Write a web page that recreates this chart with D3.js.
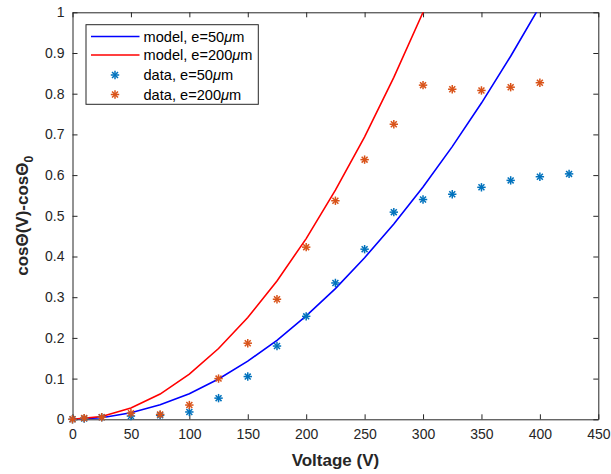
<!DOCTYPE html>
<html>
<head>
<meta charset="utf-8">
<script src="https://cdn.jsdelivr.net/npm/d3@7"></script>
<style>
  html, body { margin: 0; padding: 0; background: #fff; }
  svg { display: block; font-family: "Liberation Sans", Arial, Helvetica, sans-serif; }
</style>
</head>
<body>
<svg id="chart" width="611" height="474"></svg>
<script>
// Model curves, sampled every 25 V
const modelVoltage = [0, 25, 50, 75, 100, 125, 150, 175, 200, 225, 250, 275, 300, 325, 350, 375, 400, 425];
const model50 = [0, 0.004, 0.016, 0.036, 0.063, 0.099, 0.143, 0.194, 0.254, 0.321, 0.397, 0.48, 0.571, 0.67, 0.777, 0.892, 1.015, 1.146];
const model200 = [0, 0.007, 0.028, 0.062, 0.111, 0.174, 0.25, 0.34, 0.444, 0.563, 0.694, 0.84, 1.0, 1.17, 1.36, 1.56, 1.78, 2.0];

// Measured points
const dataVoltage50 = [0, 10, 25, 50, 75, 100, 125, 150, 175, 200, 225, 250, 275, 300, 325, 350, 375, 400, 425];
const data50 = [0, 0.002, 0.005, 0.008, 0.01, 0.018, 0.052, 0.105, 0.18, 0.253, 0.335, 0.418, 0.509, 0.54, 0.553, 0.57, 0.587, 0.596, 0.603];
const dataVoltage200 = [0, 10, 25, 50, 75, 100, 125, 150, 175, 200, 225, 250, 275, 300, 325, 350, 375, 400];
const data200 = [0, 0.003, 0.005, 0.015, 0.012, 0.035, 0.1, 0.187, 0.295, 0.423, 0.537, 0.638, 0.725, 0.821, 0.811, 0.808, 0.816, 0.827];

const xTicks = [0, 50, 100, 150, 200, 250, 300, 350, 400, 450];
const yTicks = [0, 0.1, 0.2, 0.3, 0.4, 0.5, 0.6, 0.7, 0.8, 0.9, 1];

const legendLabels = [
  { pre: "model, e=50", type: "line", color: "#0000ff" },
  { pre: "model, e=200", type: "line", color: "#ff0000" },
  { pre: "data, e=50", type: "mark", color: "#0072bd" },
  { pre: "data, e=200", type: "mark", color: "#d95319" }
];

const svg = d3.select("#chart");
const plotLeft = 72.5, plotRight = 598.3, plotTop = 12.3, plotBottom = 419.3;
const axisColor = "#262626";

const x = d3.scaleLinear().domain([0, 450]).range([plotLeft, plotRight]);
const y = d3.scaleLinear().domain([0, 1]).range([plotBottom, plotTop]);

svg.append("defs").append("clipPath").attr("id", "plotClip")
  .append("rect").attr("x", plotLeft).attr("y", plotTop)
  .attr("width", plotRight - plotLeft).attr("height", plotBottom - plotTop);

// Axes with inward ticks
const tickLen = 5;
const xAxis = svg.append("g").attr("transform", `translate(0,${plotBottom})`)
  .call(d3.axisBottom(x).tickValues(xTicks).tickSizeInner(-tickLen).tickSizeOuter(0).tickPadding(10)
    .tickFormat(d3.format("d")));
const xAxisTop = svg.append("g").attr("transform", `translate(0,${plotTop})`)
  .call(d3.axisTop(x).tickValues(xTicks).tickSizeInner(-tickLen).tickSizeOuter(0).tickFormat(""));
const yAxis = svg.append("g").attr("transform", `translate(${plotLeft},0)`)
  .call(d3.axisLeft(y).tickValues(yTicks).tickSizeInner(-tickLen).tickSizeOuter(0).tickPadding(8)
    .tickFormat(d => d === 0 ? "0" : d === 1 ? "1" : d3.format(".1f")(d)));
const yAxisRight = svg.append("g").attr("transform", `translate(${plotRight},0)`)
  .call(d3.axisRight(y).tickValues(yTicks).tickSizeInner(-tickLen).tickSizeOuter(0).tickFormat(""));

[xAxis, xAxisTop, yAxis, yAxisRight].forEach(g => {
  g.selectAll("path.domain").attr("stroke", axisColor).attr("stroke-width", 1);
  g.selectAll(".tick line").attr("stroke", axisColor).attr("stroke-width", 1);
  g.selectAll(".tick text").attr("fill", axisColor).attr("font-size", 14)
    .attr("font-family", "'Liberation Sans', Arial, sans-serif");
});

// Model lines
const plot = svg.append("g").attr("clip-path", "url(#plotClip)");
const line = d3.line().x(d => x(d[0])).y(d => y(d[1]));
plot.append("path").datum(modelVoltage.map((v, i) => [v, model50[i]]))
  .attr("d", line).attr("fill", "none").attr("stroke", "#0000ff").attr("stroke-width", 1.6);
plot.append("path").datum(modelVoltage.map((v, i) => [v, model200[i]]))
  .attr("d", line).attr("fill", "none").attr("stroke", "#ff0000").attr("stroke-width", 1.6);

// Asterisk marker
function asterisk(g, cx, cy, color) {
  const r = 4.2, d = r * Math.SQRT1_2;
  const segs = [[-r, 0, r, 0], [0, -r, 0, r], [-d, -d, d, d], [-d, d, d, -d]];
  segs.forEach(s => g.append("line")
    .attr("x1", cx + s[0]).attr("y1", cy + s[1]).attr("x2", cx + s[2]).attr("y2", cy + s[3])
    .attr("stroke", color).attr("stroke-width", 1.5));
}

const marks50 = svg.append("g");
dataVoltage50.forEach((v, i) => asterisk(marks50, x(v), y(data50[i]), "#0072bd"));
const marks200 = svg.append("g");
dataVoltage200.forEach((v, i) => asterisk(marks200, x(v), y(data200[i]), "#d95319"));

// Axis titles
svg.append("text").attr("x", (plotLeft + plotRight) / 2).attr("y", 466)
  .attr("text-anchor", "middle").attr("font-size", 17).attr("font-weight", "bold")
  .attr("fill", axisColor).text("Voltage (V)");

const yTitle = svg.append("text")
  .attr("transform", `translate(28,${(plotTop + plotBottom) / 2}) rotate(-90)`)
  .attr("text-anchor", "middle").attr("font-size", 17).attr("font-weight", "bold")
  .attr("fill", axisColor);
yTitle.append("tspan").text("cosΘ(V)-cosΘ");
yTitle.append("tspan").attr("font-size", 12).attr("dy", 5).text("0");

// Legend
const lg = svg.append("g");
lg.append("rect").attr("x", 86).attr("y", 24.7).attr("width", 172.3).attr("height", 79.6)
  .attr("fill", "#fff").attr("stroke", axisColor).attr("stroke-width", 1);
const rowY = [36.5, 55, 75, 94.5];
legendLabels.forEach((item, i) => {
  const yy = rowY[i];
  if (item.type === "line") {
    lg.append("line").attr("x1", 91).attr("x2", 139.5).attr("y1", yy).attr("y2", yy)
      .attr("stroke", item.color).attr("stroke-width", 1.6);
  } else {
    asterisk(lg, 115, yy, item.color);
  }
  const t = lg.append("text").attr("x", 143.5).attr("y", yy + 5)
    .attr("font-size", 14.6).attr("fill", "#000");
  t.append("tspan").text(item.pre);
  t.append("tspan").attr("font-style", "italic").text("μ");
  t.append("tspan").text("m");
});
</script>
</body>
</html>
